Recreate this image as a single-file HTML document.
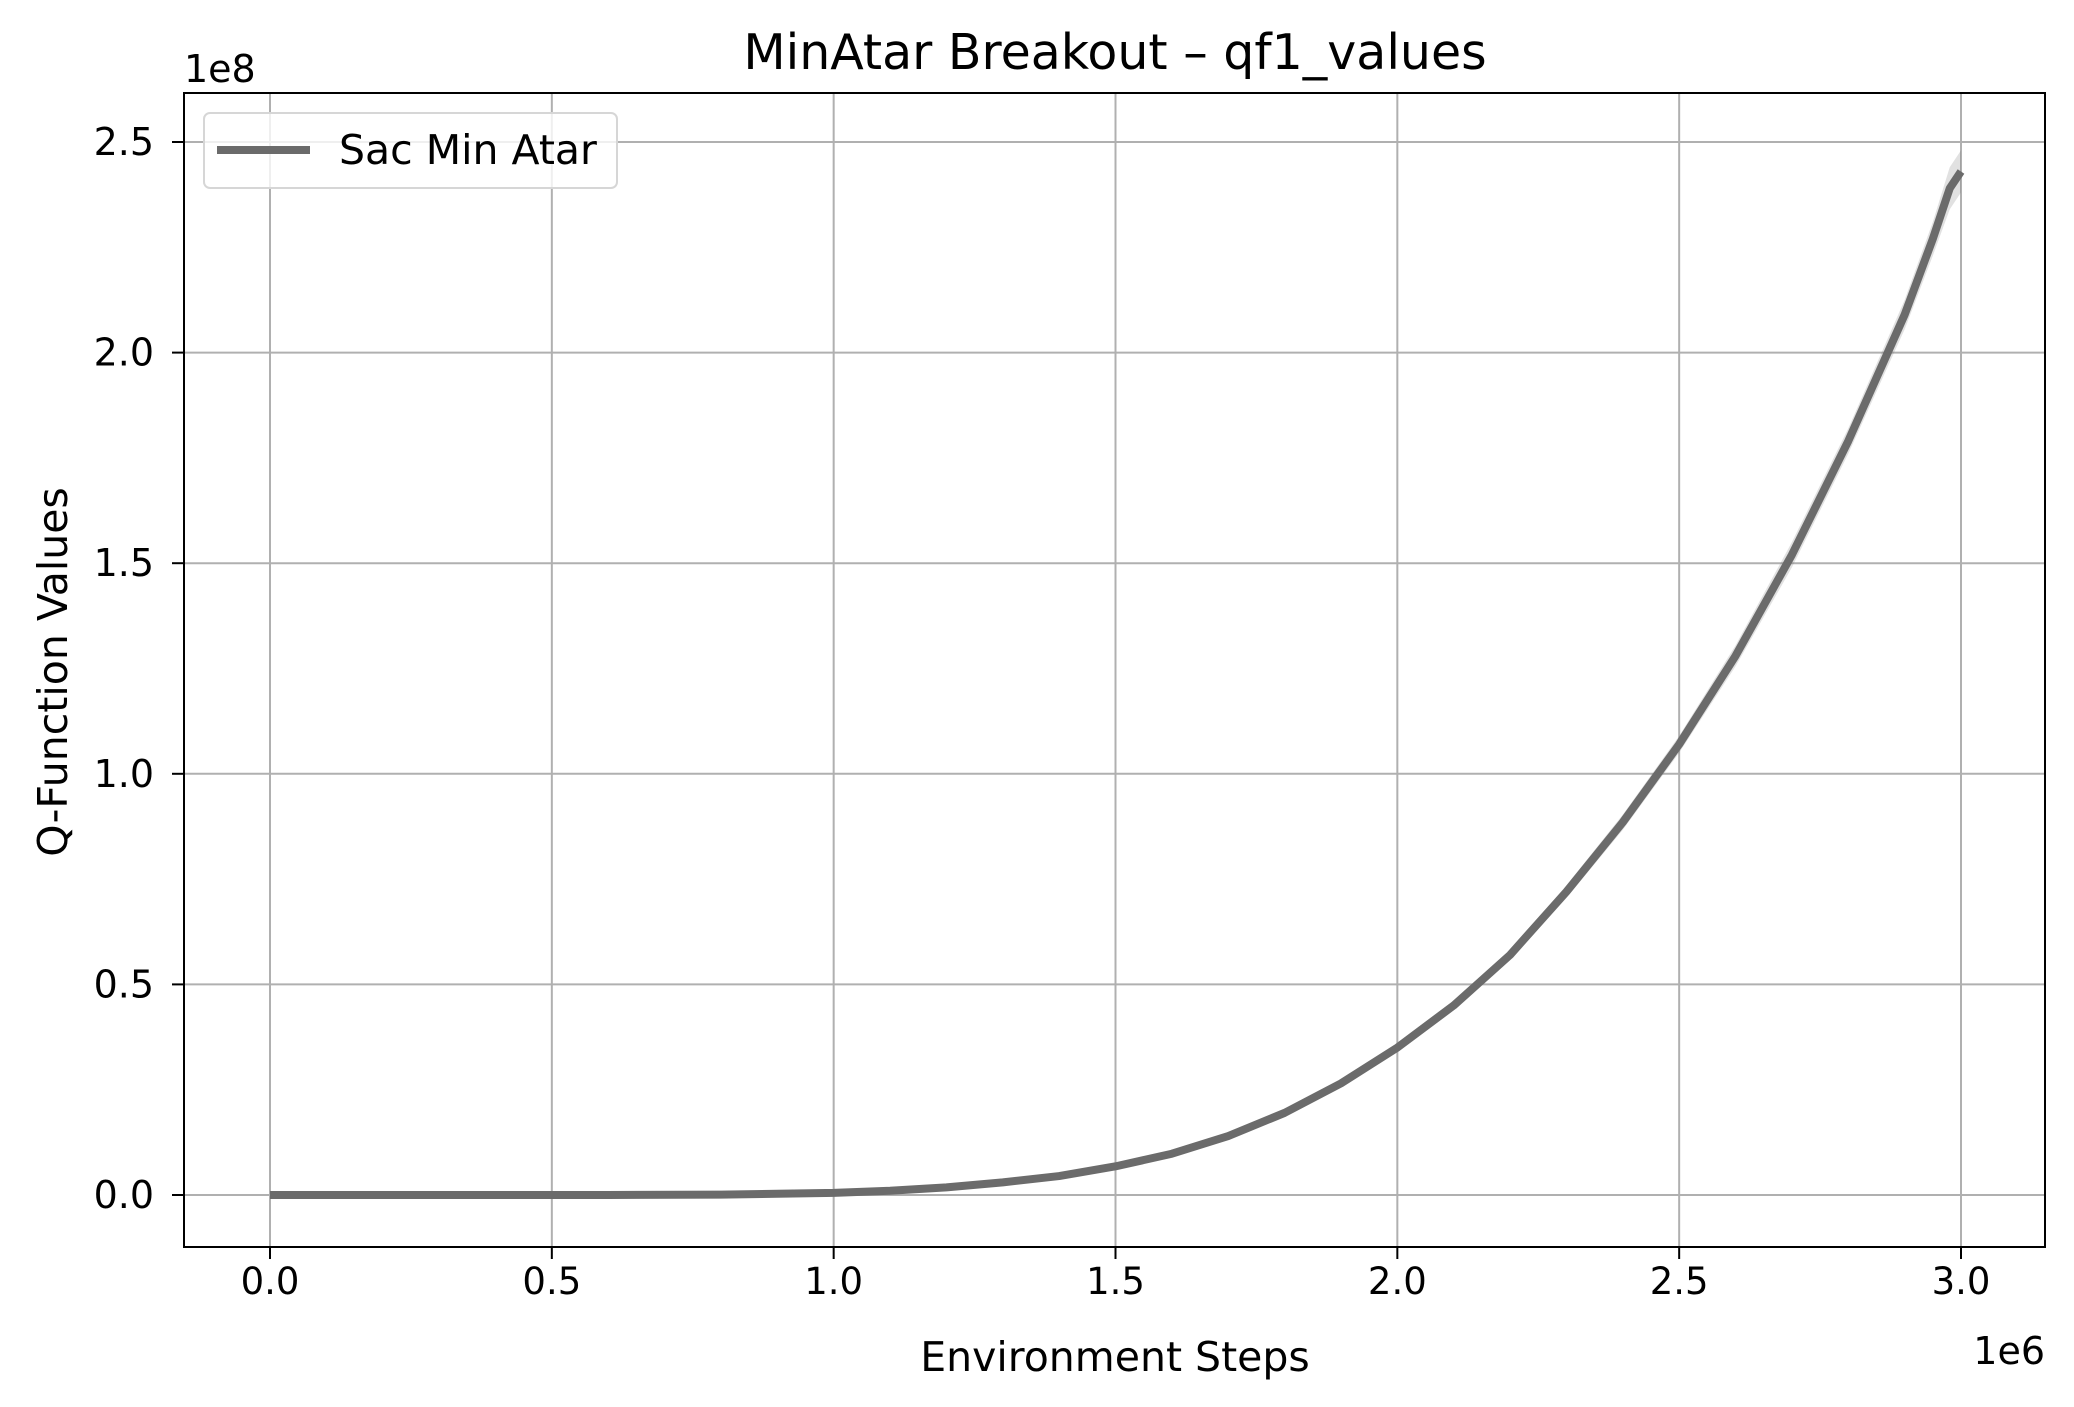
<!DOCTYPE html>
<html><head><meta charset="utf-8"><style>
html,body{margin:0;padding:0;background:#fff;}
svg{display:block;font-family:"DejaVu Sans","Liberation Sans",sans-serif;}
</style></head><body>
<svg id="chart" width="2074" height="1407" xmlns="http://www.w3.org/2000/svg">
<g id="grid"></g>
<g id="band"></g>
<g id="series"></g>
<rect x="184" y="93" width="1861" height="1154" fill="none" stroke="#000" stroke-width="2"/>
<g id="ticks"></g>
<text x="1115" y="69" font-size="49" text-anchor="middle">MinAtar Breakout – qf1_values</text>
<text x="1115" y="1371" font-size="41" text-anchor="middle">Environment Steps</text>
<text x="0" y="0" font-size="41" text-anchor="middle" transform="translate(67,672) rotate(-90)">Q-Function Values</text>
<text x="184" y="82" font-size="38">1e8</text>
<text x="2045" y="1364" font-size="38" text-anchor="end">1e6</text>
<g>
<rect x="204" y="113" width="413" height="75" rx="6" fill="#fff" fill-opacity="0.8" stroke="#d6d6d6" stroke-width="2"/>
<line x1="217" y1="150" x2="310" y2="150" stroke="#6b6b6b" stroke-width="8"/>
<text x="339" y="164" font-size="41">Sac Min Atar</text>
</g>
</svg>
<script>
const xTicks = [0, 0.5, 1.0, 1.5, 2.0, 2.5, 3.0];
const xTickLabels = ["0.0","0.5","1.0","1.5","2.0","2.5","3.0"];
const yTicks = [0, 0.5, 1.0, 1.5, 2.0, 2.5];
const yTickLabels = ["0.0","0.5","1.0","1.5","2.0","2.5"];
const steps = [0,0.2,0.4,0.6,0.8,0.9,1.0,1.1,1.2,1.3,1.4,1.5,1.6,1.7,1.8,1.9,2.0,2.1,2.2,2.3,2.4,2.5,2.6,2.7,2.8,2.9,2.95,2.98,3.0];
const qValues = [0,0,0,0,0.001,0.003,0.005,0.01,0.018,0.03,0.045,0.068,0.098,0.14,0.195,0.265,0.35,0.45,0.57,0.72,0.885,1.07,1.28,1.52,1.79,2.09,2.27,2.39,2.43];
const bandWidth = [0,0,0,0,0,0,0,0,0,0,0,0.002,0.003,0.004,0.005,0.006,0.008,0.01,0.012,0.015,0.018,0.02,0.025,0.03,0.03,0.035,0.04,0.05,0.05];
const NS="http://www.w3.org/2000/svg";
const X0=184,X1=2045,Y0=93,Y1=1247;
function xs(v){return 270+v*(1961-270)/3.0;}
function ys(v){return 1195-v*(1195-142)/2.5;}
function mk(tag,attrs,parent){const e=document.createElementNS(NS,tag);for(const k in attrs)e.setAttribute(k,attrs[k]);parent.appendChild(e);return e;}
const grid=document.getElementById('grid'),ticks=document.getElementById('ticks');
xTicks.forEach((t,i)=>{
  const g=mk('line',{x1:xs(t),x2:xs(t),y1:Y0,y2:Y1,stroke:'#b0b0b0','stroke-width':2},grid);
  
  
  const tk=mk('line',{x1:xs(t),x2:xs(t),y1:Y1,y2:Y1+12,stroke:'#000','stroke-width':2},ticks);
  
  
  const tx=mk('text',{x:xs(t),y:1294,'font-size':37,'text-anchor':'middle'},ticks);
  tx.textContent=xTickLabels[i];
  
  
});
yTicks.forEach((t,i)=>{
  const g=mk('line',{x1:X0,x2:X1,y1:ys(t),y2:ys(t),stroke:'#b0b0b0','stroke-width':2},grid);
  
  
  const tk=mk('line',{x1:X0-12,x2:X0,y1:ys(t),y2:ys(t),stroke:'#000','stroke-width':2},ticks);
  
  
  const tx=mk('text',{x:X0-30,y:ys(t)+13,'font-size':38,'text-anchor':'end'},ticks);
  tx.textContent=yTickLabels[i];
  
  
});
let up=steps.map((s,i)=>xs(s)+','+ys(qValues[i]+bandWidth[i]));
let dn=steps.map((s,i)=>xs(s)+','+ys(qValues[i]-bandWidth[i])).reverse();
const band=mk('polygon',{points:up.concat(dn).join(' '),fill:'#6b6b6b','fill-opacity':0.2,stroke:'none'},document.getElementById('band'));


const line=mk('polyline',{points:steps.map((s,i)=>xs(s)+','+ys(qValues[i])).join(' '),fill:'none',stroke:'#6b6b6b','stroke-width':8,'stroke-linejoin':'round'},document.getElementById('series'));


</script>
</body></html>
